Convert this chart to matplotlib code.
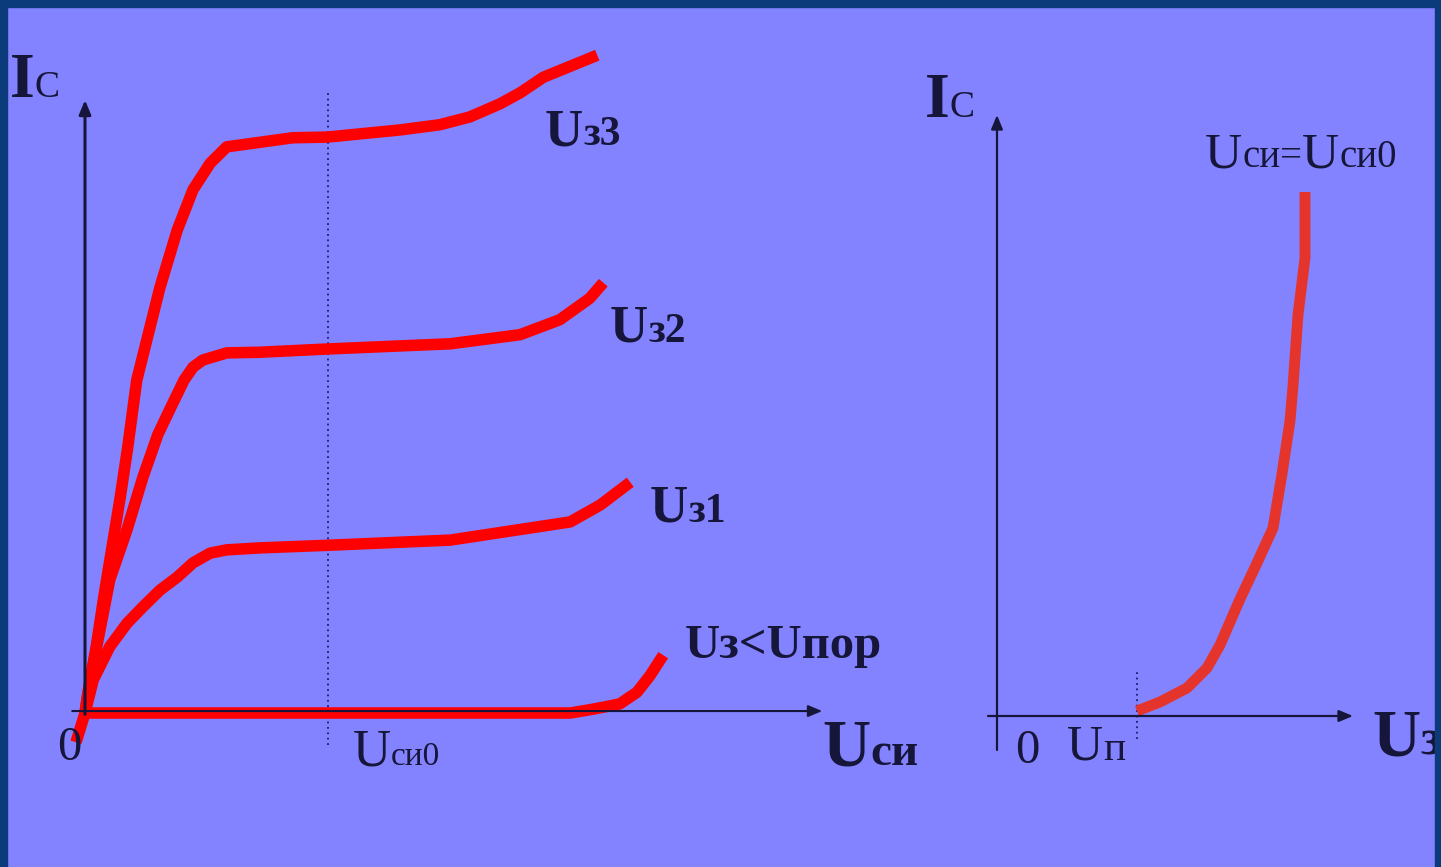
import matplotlib
matplotlib.use('Agg')
import matplotlib.pyplot as plt
from matplotlib.patches import Rectangle

W, H = 1441, 867

# Output (drain) characteristics Ic(Uси) for several gate voltages
u_si_z3 = [-0.12, 0.0, 0.03, 0.15, 0.25, 0.36, 0.47, 0.57, 0.69, 1.0, 1.23, 1.44, 1.67, 1.89,
           2.33, 2.77, 3.23, 4.2, 4.73, 5.13, 5.53, 5.8, 6.11, 6.83]
ic_z3 = [-0.45, 0.0, 0.25, 1.02, 1.78, 2.55, 3.32, 4.09, 5.12, 6.55, 7.43, 8.05, 8.46, 8.71,
         8.78, 8.85, 8.86, 8.97, 9.05, 9.17, 9.37, 9.54, 9.78, 10.12]

u_si_z2 = [0.0, 0.07, 0.2, 0.33, 0.56, 0.77, 0.97, 1.16, 1.32, 1.44, 1.57, 1.89, 2.33, 3.23,
           4.87, 5.8, 6.33, 6.73, 6.91]
ic_z2 = [0.0, 0.51, 1.28, 2.05, 2.82, 3.62, 4.28, 4.74, 5.12, 5.32, 5.43, 5.54, 5.55, 5.6,
         5.68, 5.82, 6.05, 6.38, 6.62]

u_si_z1 = [0.0, 0.11, 0.33, 0.56, 0.77, 1.0, 1.23, 1.44, 1.67, 1.89, 2.33, 3.23, 4.87, 6.47,
           6.87, 7.27]
ic_z1 = [0.0, 0.51, 1.02, 1.38, 1.63, 1.89, 2.09, 2.31, 2.46, 2.51, 2.54, 2.58, 2.66, 2.94,
         3.2, 3.55]

u_si_off = [0.0, 6.47, 6.73, 6.87, 7.13, 7.36, 7.53, 7.71]
ic_off = [0.0, 0.0, 0.05, 0.08, 0.14, 0.32, 0.57, 0.89]

u_si0 = 3.24

# Transfer characteristic Ic(Uз) at Uси = Uси0
u_z = [2.8, 3.26, 3.8, 4.2, 4.46, 4.86, 5.2, 5.52, 5.7, 5.86, 5.92, 6.02, 6.16, 6.16]
ic_z = [0.1, 0.28, 0.56, 0.96, 1.42, 2.34, 3.06, 3.76, 4.84, 5.9, 6.6, 8.02, 9.16, 10.48]

u_p = 2.8

violet = '#8383ff'
border = '#0c3b7c'
ink = '#16163a'

plt.rcParams['font.family'] = ['Liberation Serif', 'DejaVu Serif']

fig = plt.figure(figsize=(W / 100, H / 100), dpi=100)
fig.patch.set_facecolor(violet)

ax1 = fig.add_axes([85 / W, (H - 713) / H, 750 / W, 650 / H])
ax1.set_xlim(0, 10)
ax1.set_ylim(0, 10)
ax2 = fig.add_axes([997 / W, (H - 716) / H, 400 / W, 650 / H])
ax2.set_xlim(0, 8)
ax2.set_ylim(0, 13)
for ax in (ax1, ax2):
    ax.set_axis_off()
    ax.patch.set_alpha(0)


def axis_arrow(ax, start, end, lw):
    ax.annotate('', xy=end, xytext=start, annotation_clip=False,
                arrowprops=dict(arrowstyle='-|>,head_length=0.6,head_width=0.25',
                                mutation_scale=14, lw=lw, color=ink,
                                shrinkA=0, shrinkB=0))


# left chart: axes, Uси0 marker, curves
axis_arrow(ax1, (0, -0.02), (0, 9.43), 2.2)
axis_arrow(ax1, (-0.17, 0.03), (9.83, 0.03), 1.5)
ax1.plot([u_si0, u_si0], [-0.49, 9.58], ls=(0, (1, 2)), color='#1c1c70', lw=1.3, clip_on=False)
for xs, ys in [(u_si_z3, ic_z3), (u_si_z2, ic_z2), (u_si_z1, ic_z1), (u_si_off, ic_off)]:
    ax1.plot(xs, ys, color='#ff0000', lw=8.3, solid_capstyle='butt',
             solid_joinstyle='round', clip_on=False)

# right chart
axis_arrow(ax2, (0, -0.68), (0, 12.02), 1.6)
axis_arrow(ax2, (-0.18, 0), (7.12, 0), 1.6)
ax2.plot([u_p, u_p], [-0.46, 0.88], ls=(0, (1, 2)), color='#1c1c70', lw=1.3, clip_on=False)
ax2.plot(u_z, ic_z, color='#e5342c', lw=7.8, solid_capstyle='butt',
         solid_joinstyle='round', clip_on=False)

# text layer in pixel units
ov = fig.add_axes([0, 0, 1, 1], zorder=3)
ov.set_xlim(0, W)
ov.set_ylim(H, 0)
ov.set_axis_off()


def label(x, y, parts, color=ink):
    prev, prev_size = None, None
    for text, size, weight in parts:
        if prev is None:
            prev = ov.text(x, y, text, fontsize=size, weight=weight, color=color,
                           ha='left', va='baseline')
        else:
            prev = ov.annotate(text, xy=(1, 0), xycoords=prev,
                               xytext=(0, 0.217 * prev_size), textcoords='offset points',
                               fontsize=size, weight=weight, color=color,
                               ha='left', va='baseline')
        prev_size = size


label(10, 97, [('I', 46, 'bold'), ('С', 27, 'normal')])
label(925, 117, [('I', 46, 'bold'), ('С', 27, 'normal')])
label(545, 145, [('U', 38, 'bold'), ('з3', 30, 'bold')])
label(610, 342, [('U', 38, 'bold'), ('з2', 30, 'bold')])
label(650, 522, [('U', 38, 'bold'), ('з1', 30, 'bold')])
label(685, 658, [('Uз<Uпор', 35, 'bold')])
label(822, 765, [('U', 48, 'bold'), ('си', 34, 'bold')])
label(57, 760, [('0', 35, 'normal')])
label(353, 765, [('U', 38, 'normal'), ('си0', 24, 'normal')])
label(1205, 167, [('U', 37, 'normal'), ('си=', 28, 'normal'),
                  ('U', 37, 'normal'), ('си0', 28, 'normal')])
label(1015, 763, [('0', 35, 'normal')])
label(1067, 760, [('U', 36, 'normal'), ('п', 30, 'normal')])
label(1372, 755, [('U', 48, 'bold'), ('з', 36, 'bold')])

# slide frame
for x0, y0, w, h in [(0, 0, 7, H), (0, 0, W, 7), (1435, 0, 6, H)]:
    fig.add_artist(Rectangle((x0 / W, 1 - (y0 + h) / H), w / W, h / H,
                             transform=fig.transFigure, color=border, zorder=10))

fig.savefig('out.png', dpi=100, facecolor=fig.get_facecolor())
